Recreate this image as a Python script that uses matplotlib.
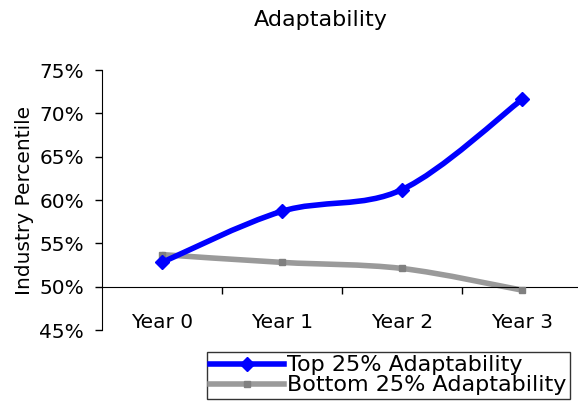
import matplotlib
matplotlib.use('Agg')
import matplotlib.pyplot as plt
from matplotlib.path import Path
from matplotlib.patches import PathPatch
from matplotlib.lines import Line2D
import numpy as np

plt.rcParams['font.family'] = ['DejaVu Sans']

# Data
years = ['Year 0', 'Year 1', 'Year 2', 'Year 3']
top_25 = [52.8, 58.7, 61.2, 71.6]
bottom_25 = [53.7, 52.8, 52.1, 49.6]
series_labels = ['Top 25% Adaptability', 'Bottom 25% Adaptability']


def smooth_path(xs, ys):
    # Excel style smoothed line: cubic bezier segments through the points
    pts = np.column_stack([xs, ys]).astype(float)
    n = len(pts)
    verts = [pts[0]]
    codes = [Path.MOVETO]
    for i in range(n - 1):
        p0 = pts[i - 1] if i > 0 else pts[i]
        p1 = pts[i]
        p2 = pts[i + 1]
        p3 = pts[i + 2] if i + 2 < n else pts[i + 1]
        c1 = p1 + (p2 - p0) / 6.0
        c2 = p2 - (p3 - p1) / 6.0
        verts += [c1, c2, p2]
        codes += [Path.CURVE4] * 3
    return Path(verts, codes)


fig = plt.figure(figsize=(5.78, 4.12), dpi=100)
ax = fig.add_axes([102 / 578, 1 - 330 / 412, 480 / 578, 260 / 412])

x = np.arange(len(years))

ax.add_patch(PathPatch(smooth_path(x, bottom_25), fill=False, edgecolor='#9a9a9a',
                       linewidth=4, capstyle='butt', zorder=2))
ax.plot(x, bottom_25, linestyle='none', marker='s', markersize=5,
        color='#808080', zorder=3)

ax.add_patch(PathPatch(smooth_path(x, top_25), fill=False, edgecolor='#0000ff',
                       linewidth=4, capstyle='round', zorder=4))
ax.plot(x, top_25, linestyle='none', marker='D', markersize=7,
        color='#0000ff', zorder=5)

ax.set_xlim(-0.5, 3.5)
ax.set_ylim(45, 75)
ax.set_yticks(np.arange(45, 76, 5))
ax.set_yticklabels([f'{v}%' for v in range(45, 76, 5)], fontsize=14.5)
ax.tick_params(axis='y', direction='out', length=5, width=1, pad=8)

# horizontal axis crosses at 50%
ax.spines['bottom'].set_position(('data', 50))
ax.spines['top'].set_visible(False)
ax.spines['right'].set_visible(False)
ax.spines['left'].set_color('#000000')
ax.spines['bottom'].set_color('#000000')

ax.set_xticks([0.5, 1.5, 2.5, 3.5])
ax.set_xticklabels([])
ax.tick_params(axis='x', which='major', direction='out', length=5, width=1)
ax.set_xticks(x, minor=True)
ax.set_xticklabels(years, minor=True, fontsize=14.5)
ax.tick_params(axis='x', which='minor', length=0, pad=19)

ax.set_ylabel('Industry Percentile', fontsize=14.5, labelpad=4)
fig.text(321 / 578, 1 - 20 / 412, 'Adaptability',
         ha='center', va='center', fontsize=16)

handles = [
    Line2D([], [], color='#0000ff', linewidth=4, marker='D', markersize=7),
    Line2D([], [], color='#9a9a9a', linewidth=4, marker='s', markersize=5,
           markerfacecolor='#808080', markeredgecolor='#808080'),
]
leg = fig.legend(handles, series_labels, loc='upper left',
                 bbox_to_anchor=(207 / 578, 1 - 352 / 412), fontsize=16,
                 frameon=True, fancybox=False, handlelength=3.3,
                 handletextpad=0.15, labelspacing=0.0, borderpad=0.15,
                 borderaxespad=0)
leg.get_frame().set_edgecolor('#000000')
leg.get_frame().set_linewidth(1)

fig.savefig('out.png', dpi=100)
